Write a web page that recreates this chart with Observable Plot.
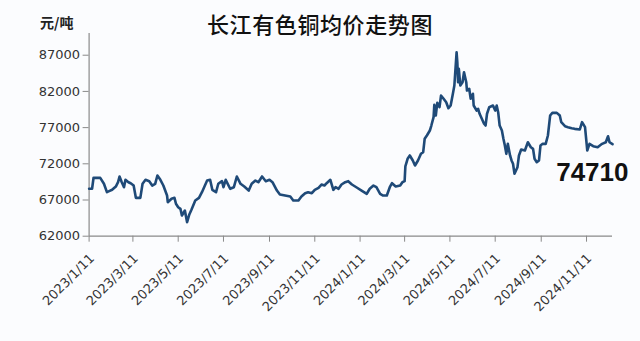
<!DOCTYPE html>
<html><head><meta charset="utf-8">
<script src="https://cdn.jsdelivr.net/npm/d3@7"></script>
<script src="https://cdn.jsdelivr.net/npm/@observablehq/plot@0.6"></script>
<style>
html,body{margin:0;padding:0;background:#fbfcfe;}
#chart{position:relative;width:640px;height:341px;overflow:hidden;background:#fbfcfe;}
#title{position:absolute;left:0;top:7px;width:640px;text-align:center;font-family:"Noto Sans CJK SC";font-weight:500;font-size:22px;color:#111;letter-spacing:0.6px;}
#unit{position:absolute;left:40px;top:12px;font-family:"Noto Sans CJK SC";font-weight:700;font-size:14px;color:#222;}
#plot{position:absolute;left:0;top:0;}
</style>
</head><body>
<div id="chart"><div id="plot"></div><div id="title">长江有色铜均价走势图</div><div id="unit">元/吨</div></div>
<script>
const dates = [
"2023-01-11","2023-01-15","2023-01-17","2023-01-26","2023-01-31","2023-02-04","2023-02-07","2023-02-11","2023-02-16","2023-02-19",
"2023-02-21","2023-02-24","2023-02-27","2023-03-01","2023-03-05","2023-03-08","2023-03-12","2023-03-15","2023-03-21","2023-03-24",
"2023-03-28","2023-04-02","2023-04-06","2023-04-10","2023-04-13","2023-04-17","2023-04-21","2023-04-26","2023-04-27","2023-05-02",
"2023-05-06","2023-05-08","2023-05-11","2023-05-14","2023-05-16","2023-05-20","2023-05-23","2023-05-26","2023-05-29","2023-06-03",
"2023-06-08","2023-06-12","2023-06-16","2023-06-19","2023-06-23","2023-06-26","2023-07-01","2023-07-04","2023-07-09","2023-07-11",
"2023-07-14","2023-07-20","2023-07-25","2023-07-29","2023-08-03","2023-08-08","2023-08-14","2023-08-18","2023-08-23","2023-08-27",
"2023-09-01","2023-09-06","2023-09-11","2023-09-15","2023-09-21","2023-09-25","2023-10-02","2023-10-09","2023-10-13","2023-10-20",
"2023-10-24","2023-10-29","2023-11-02","2023-11-07","2023-11-11","2023-11-16","2023-11-20","2023-11-24","2023-11-27","2023-12-02",
"2023-12-06","2023-12-09","2023-12-13","2023-12-17","2023-12-22","2023-12-26","2023-12-31","2024-01-07","2024-01-13","2024-01-20",
"2024-01-24","2024-01-29","2024-02-02","2024-02-07","2024-02-11","2024-02-16","2024-02-20","2024-02-23","2024-02-28","2024-03-05",
"2024-03-08","2024-03-11","2024-03-12","2024-03-15","2024-03-18","2024-03-22","2024-03-25","2024-03-29","2024-04-02","2024-04-05",
"2024-04-07","2024-04-10","2024-04-14","2024-04-16","2024-04-19","2024-04-20","2024-04-22","2024-04-24","2024-04-27","2024-04-29",
"2024-05-02","2024-05-06","2024-05-09","2024-05-12","2024-05-15","2024-05-17","2024-05-20","2024-05-21","2024-05-22","2024-05-23",
"2024-05-25","2024-05-28","2024-05-30","2024-06-02","2024-06-03","2024-06-06","2024-06-08","2024-06-11","2024-06-12","2024-06-16",
"2024-06-18","2024-06-20","2024-06-23","2024-06-26","2024-06-28","2024-06-30","2024-07-03","2024-07-08","2024-07-11","2024-07-13",
"2024-07-15","2024-07-17","2024-07-20","2024-07-22","2024-07-24","2024-07-26","2024-07-28","2024-07-31","2024-08-02","2024-08-04",
"2024-08-06","2024-08-10","2024-08-12","2024-08-15","2024-08-20","2024-08-24","2024-08-28","2024-08-31","2024-09-02","2024-09-05",
"2024-09-08","2024-09-10","2024-09-13","2024-09-17","2024-09-20","2024-09-23","2024-09-26","2024-10-02","2024-10-06","2024-10-08",
"2024-10-13","2024-10-17","2024-10-22","2024-10-26","2024-11-02","2024-11-05","2024-11-09","2024-11-12","2024-11-15","2024-11-20",
"2024-11-26","2024-12-02","2024-12-07","2024-12-10","2024-12-12","2024-12-16"
];
const prices = [
68550,68550,70070,70050,69240,68080,68220,68410,68860,69460,
70250,69460,68770,69790,69460,69320,69000,67300,67300,69240,
69790,69600,69000,69240,70380,69790,69000,67620,66700,67170,
67300,66480,66010,65780,64860,65550,63930,65000,65690,66930,
67300,68080,69000,69690,69790,68410,68080,69240,69600,68770,
69790,68550,68770,70250,69240,68860,68310,69240,69690,69460,
70250,69600,69790,69460,68310,67760,67620,67480,66930,66930,
67480,67940,68080,67940,68410,68690,69140,69000,69320,69790,
68410,68770,68550,69140,69460,69600,69140,68690,68310,67860,
68550,69000,68770,67860,67620,67620,68770,69320,68860,69000,
69460,69600,71630,72690,73150,72460,71770,72460,73380,73600,
75450,75910,76600,77290,78440,80150,78670,80430,79820,81430,
81060,80510,79680,80050,81670,82820,87410,86030,83270,85120,
82820,83270,84650,83270,82120,82360,80980,81670,80050,79360,
79600,78910,78220,77530,77290,78910,79820,80050,79360,80050,
79130,77290,76600,75490,74530,73380,74760,73150,72460,72000,
70620,71530,73150,73970,73840,74980,74290,74070,72690,72220,
72460,74530,74760,74760,75910,78670,79040,79040,78670,77750,
77190,77060,76920,76830,76740,77750,77060,73840,74760,74430,
74290,74760,74980,75810,74980,74710
];
const xTickLabels = ["2023/1/11","2023/3/11","2023/5/11","2023/7/11","2023/9/11","2023/11/11","2024/1/11","2024/3/11","2024/5/11","2024/7/11","2024/9/11","2024/11/11"];
const yTicks = [62000,67000,72000,77000,82000,87000];

const parseDate = s => new Date(s + "T00:00:00Z");
const data = dates.map((d, i) => ({date: parseDate(d), price: prices[i]}));
const xTickDates = xTickLabels.map(s => { const [y, m, d] = s.split("/").map(Number); return new Date(Date.UTC(y, m - 1, d)); });
const fmt = d3.utcFormat("%Y/%-m/%-d");
const start = data[0].date, end = data[data.length - 1].date;
const last = data[data.length - 1];

const chart = Plot.plot({
  width: 640, height: 341,
  marginLeft: 88.6, marginRight: 28, marginTop: 33, marginBottom: 105.3,
  style: {background: "transparent", fontFamily: "DejaVu Sans", fontSize: "13px", color: "#333"},
  x: {type: "utc", domain: [start, end]},
  y: {domain: [62000, 90000]},
  marks: [
    Plot.ruleY([62000], {stroke: "#8a8a8a", strokeWidth: 1.2}),
    Plot.ruleX([start], {stroke: "#8a8a8a", strokeWidth: 1.2}),
    Plot.axisY({ticks: yTicks, tickFormat: d => String(d), tickSize: 6, tickPadding: 3, label: null, stroke: "#8a8a8a", fill: "#333"}),
    Plot.axisX({ticks: xTickDates, tickFormat: () => "", tickSize: 6, label: null, stroke: "#8a8a8a"}),
    Plot.axisX({ticks: xTickDates, tickFormat: fmt, tickRotate: -45, tickSize: 0, tickPadding: 20, dx: 3, label: null, fill: "#333"}),
    Plot.lineY(data, {x: "date", y: "price", stroke: "#1f4a78", strokeWidth: 2.6, strokeLinejoin: "round"}),
    Plot.text([last], {x: "date", y: "price", text: d => String(d.price), textAnchor: "end", dx: 16, dy: 28, fontSize: 26, fontWeight: "bold", fontFamily: "Liberation Sans", fill: "#111"})
  ]
});
document.getElementById("plot").appendChild(chart);
</script>
</body></html>
